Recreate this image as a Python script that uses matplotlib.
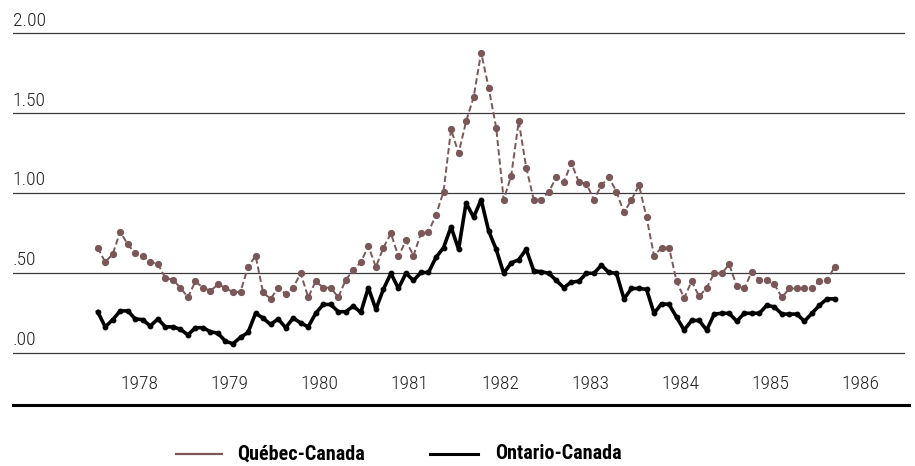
import matplotlib
matplotlib.use("Agg")
import matplotlib.pyplot as plt
from matplotlib.lines import Line2D
import numpy as np

plt.rcParams['font.family'] = ['Roboto Condensed', 'Liberation Sans Narrow', 'DejaVu Sans']
plt.rcParams['font.stretch'] = 'condensed'

# monthly values, July 1977 to September 1985
quebec = [0.66, 0.57, 0.62, 0.76, 0.68, 0.625, 0.61, 0.57, 0.56, 0.47, 0.46, 0.41,
          0.35, 0.45, 0.41, 0.39, 0.43, 0.41, 0.38, 0.385, 0.54, 0.61, 0.38, 0.34,
          0.41, 0.37, 0.41, 0.50, 0.35, 0.45, 0.41, 0.41, 0.35, 0.46, 0.52, 0.57,
          0.67, 0.54, 0.66, 0.75, 0.605, 0.705, 0.61, 0.75, 0.76, 0.865, 1.01, 1.40,
          1.25, 1.45, 1.60, 1.88, 1.66, 1.41, 0.96, 1.11, 1.45, 1.16, 0.96, 0.96,
          1.01, 1.10, 1.07, 1.19, 1.07, 1.06, 0.96, 1.05, 1.10, 1.01, 0.88, 0.96,
          1.05, 0.85, 0.61, 0.66, 0.66, 0.45, 0.345, 0.45, 0.355, 0.41, 0.50, 0.50,
          0.555, 0.42, 0.405, 0.51, 0.46, 0.455, 0.43, 0.35, 0.405, 0.405, 0.405, 0.405,
          0.45, 0.455, 0.54]
ontario = [0.26, 0.165, 0.21, 0.265, 0.265, 0.215, 0.21, 0.17, 0.215, 0.165, 0.165, 0.15,
           0.115, 0.16, 0.16, 0.135, 0.125, 0.075, 0.06, 0.10, 0.13, 0.25, 0.22, 0.18,
           0.215, 0.16, 0.22, 0.19, 0.165, 0.25, 0.305, 0.305, 0.26, 0.26, 0.295, 0.255,
           0.41, 0.275, 0.40, 0.50, 0.405, 0.50, 0.455, 0.505, 0.505, 0.60, 0.66, 0.79,
           0.65, 0.94, 0.85, 0.96, 0.765, 0.65, 0.50, 0.565, 0.585, 0.65, 0.515, 0.51,
           0.50, 0.455, 0.41, 0.445, 0.45, 0.50, 0.50, 0.55, 0.505, 0.50, 0.34, 0.405,
           0.405, 0.40, 0.25, 0.31, 0.305, 0.225, 0.145, 0.205, 0.205, 0.145, 0.245, 0.25,
           0.25, 0.20, 0.25, 0.25, 0.25, 0.30, 0.29, 0.245, 0.245, 0.245, 0.20, 0.25,
           0.30, 0.34, 0.34]
years = [1978, 1979, 1980, 1981, 1982, 1983, 1984, 1985, 1986]
yticks = [0.0, 0.5, 1.0, 1.5, 2.0]
ylabels = ['.00', '.50', '1.00', '1.50', '2.00']

t = 1977.5 + (np.arange(len(quebec)) + 0.5) / 12

qc_color = '#7b5757'

fig = plt.figure(figsize=(9.15, 4.66), dpi=100)
ax = fig.add_axes([0.0139, 0.2247, 0.9752, 0.7210])

for y, lab in zip(yticks, ylabels):
    ax.axhline(y, color='#3a3a3a', lw=0.9, zorder=1)
    ax.text(0.0, y + 0.08, lab, transform=ax.get_yaxis_transform(),
            ha='left', va='center', fontsize=14, fontweight='light', color='#222222')

ax.plot(t, quebec, color=qc_color, lw=1.4, ls=(0, (3.2, 1.6)), marker='o',
        markersize=4.2, markerfacecolor=qc_color, markeredgecolor=qc_color, zorder=3)
ax.plot(t, ontario, color='black', lw=2.6, marker='o', markersize=3.2,
        markerfacecolor='black', markeredgecolor='black', zorder=4,
        solid_joinstyle='round')

ax.set_xlim(1976.60, 1986.49)
ax.set_ylim(-0.05, 2.05)
ax.set_xticks(years)
ax.set_xticklabels([str(y) for y in years], fontsize=14, fontweight='light', color='#222222')
ax.tick_params(axis='x', length=0, pad=10)
ax.set_yticks([])
for s in ax.spines.values():
    s.set_visible(False)

# rule under the year labels
fig.add_artist(Line2D([0.014, 0.993], [0.1309, 0.1309], color='black', lw=2.2))

# legend
fig.add_artist(Line2D([0.192, 0.243], [0.026, 0.026], color=qc_color, lw=1.6))
fig.text(0.259, 0.026, 'Québec-Canada', fontsize=14.5, fontweight='bold', va='center', ha='left')
fig.add_artist(Line2D([0.470, 0.522], [0.026, 0.026], color='black', lw=2.2))
fig.text(0.541, 0.026, 'Ontario-Canada', fontsize=14.5, fontweight='bold', va='center', ha='left')

fig.savefig('out.png', dpi=100)
